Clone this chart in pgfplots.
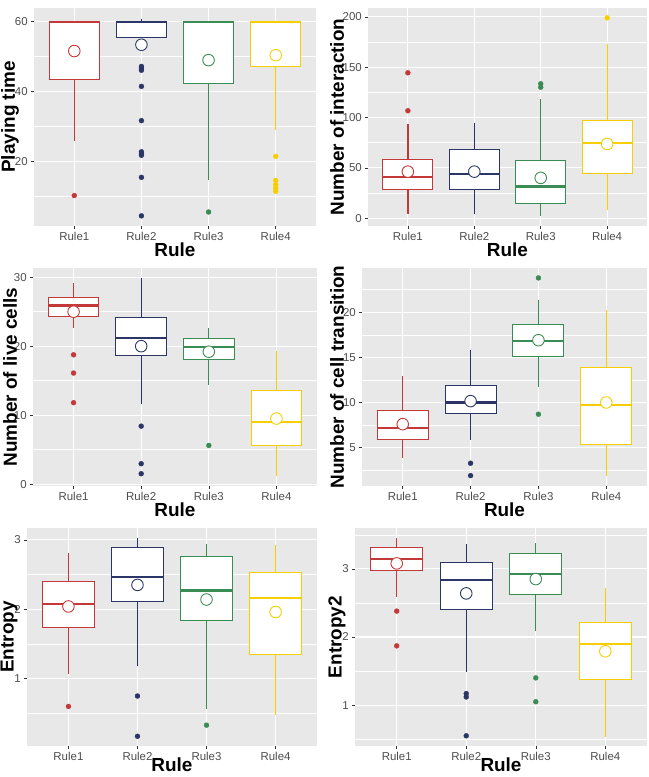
\documentclass[border=0pt]{standalone}
\usepackage{pgfplots}
\pgfplotsset{compat=1.18}
\usepgfplotslibrary{statistics}
\usepackage{fontspec}
\setmainfont{Liberation Sans}
\definecolor{cR}{HTML}{C43838}
\definecolor{cN}{HTML}{2B3566}
\definecolor{cG}{HTML}{3A8C55}
\definecolor{cY}{HTML}{F7CF00}
\definecolor{panelgray}{HTML}{E8E8E8}
\definecolor{gthirty}{HTML}{4D4D4D}
\definecolor{gtwenty}{HTML}{333333}
\pgfplotsset{
  rbox/.style={
    scale only axis, height=218bp,
    xmin=0.4, xmax=4.6, xtick={1,2,3,4}, xticklabels={Rule1,Rule2,Rule3,Rule4},
    axis background/.style={fill=panelgray},
    axis line style={draw=none},
    xmajorgrids=true, ymajorgrids=true, yminorgrids=true,
    major grid style={white, line width=1.1bp},
    minor grid style={white, line width=0.55bp},
    tick align=outside, xtick pos=bottom, ytick pos=left,
    major tick length=2.75pt, minor tick length=0pt,
    tick style={color=gtwenty, line width=0.5bp},
    tick label style={font=\fontsize{11.5}{12}\selectfont, text=gthirty},
    label style={font=\bfseries\fontsize{19}{21}\selectfont, inner sep=0pt},
    xlabel={Rule},
    xlab=24bp,
    /pgf/number format/assume math mode=true,
    boxplot/draw direction=y,
    boxplot/box extend=0.75, boxplot/whisker extend=0,
    boxplot/every median/.style={line width=2.2bp},
    boxplot/every whisker/.style={line width=1.3bp},
    boxplot/every box/.style={line width=1.0bp},
  },
  xlab/.style={xlabel style={at={([yshift=-#1]rel axis cs:0.5,0)}, anchor=center}},
  ylab/.style={ylabel style={at={([xshift=-#1]rel axis cs:0,0.5)}, anchor=center, rotate=0}},
  bxs/.style={draw=#1, fill=white, line width=1.0bp, mark=*, mark size=2.5bp,
    mark options={fill=#1, draw=#1, line width=0.3bp}},
  mn/.style={only marks, mark=*, mark size=5.8bp,
    mark options={fill=white, draw=#1, line width=0.9bp}},
}
% color, pos, lower whisker, lower quartile, median, upper quartile, upper whisker, mean, outliers
\newcommand{\bx}[9]{%
  \addplot[bxs=#1, boxplot prepared={draw position=#2, lower whisker=#3,
    lower quartile=#4, median=#5, upper quartile=#6, upper whisker=#7}] coordinates {#9};
  \addplot[mn=#1] coordinates {(#2,#8)};
}
\begin{document}
\begin{tikzpicture}[x=1bp,y=1bp]
\path[use as bounding box] (0,0) rectangle (649,777);
% Panel 1
\begin{axis}[rbox, at={(34bp,551bp)}, anchor=south west, width=282bp,
  ymin=1.6, ymax=63.9, ytick={20,40,60}, minor ytick={10,30,50},
  ylabel={Playing time}, ylab=24bp]
\bx{cR}{1}{25.8}{43.6}{60}{60}{60}{51.6}{(1,10.3)}
\bx{cN}{2}{55.5}{55.5}{60}{60}{60.8}{53.4}{(2,47.2) (2,46.6) (2,46.1) (2,41.5) (2,31.7) (2,22.8) (2,22.2) (2,21.8) (2,15.5) (2,4.5)}
\bx{cG}{3}{14.7}{42.2}{60}{60}{60}{49.0}{(3,5.6)}
\bx{cY}{4}{29.1}{47.2}{60}{60}{60}{50.4}{(4,21.5) (4,14.6) (4,13.4) (4,12.4) (4,11.5)}
\end{axis}
% Panel 2
\begin{axis}[rbox, at={(368bp,551bp)}, anchor=south west, width=279bp,
  ymin=-7.8, ymax=208.8, ytick={0,50,100,150,200}, minor ytick={25,75,125,175},
  ylabel={Number of interaction}, ylab=31bp]
\bx{cR}{1}{4}{28.8}{41}{57.8}{93.3}{46.2}{(1,106.7) (1,144.4)}
\bx{cN}{2}{4}{28.8}{43.7}{67.8}{94.9}{46.2}{}
\bx{cG}{3}{2.6}{14.2}{31.4}{57.2}{118}{40}{(3,130) (3,133.5)}
\bx{cY}{4}{8.2}{44.3}{75}{96.8}{172.6}{73.7}{(4,199)}
\end{axis}
% Panel 3
\begin{axis}[rbox, at={(33bp,291bp)}, anchor=south west, width=284bp,
  ymin=-0.28, ymax=31.34, ytick={0,10,20,30}, minor ytick={5,15,25},
  ylabel={Number of live cells}, ylab=23bp]
\bx{cR}{1}{22.6}{24.3}{25.9}{27.0}{29.1}{25.0}{(1,18.75) (1,16.1) (1,11.8)}
\bx{cN}{2}{11.6}{18.6}{21.2}{24.1}{29.9}{20.0}{(2,8.4) (2,2.95) (2,1.5)}
\bx{cG}{3}{14.4}{18.1}{19.9}{21.1}{22.7}{19.2}{(3,5.6)}
\bx{cY}{4}{1.16}{5.6}{9.0}{13.5}{19.3}{9.5}{}
\end{axis}
% Panel 4
\begin{axis}[rbox, at={(362bp,291bp)}, anchor=south west, width=285bp,
  ymin=0.75, ymax=24.9, ytick={5,10,15,20}, minor ytick={2.5,7.5,12.5,17.5,22.5},
  ylabel={Number of cell transition}, ylab=25bp]
\bx{cR}{1}{3.9}{5.86}{7.2}{9.15}{12.9}{7.6}{}
\bx{cN}{2}{5.8}{8.8}{10.0}{11.9}{15.85}{10.15}{(2,3.27) (2,1.9)}
\bx{cG}{3}{11.7}{15.15}{16.8}{18.6}{21.3}{16.9}{(3,23.8) (3,8.7)}
\bx{cY}{4}{1.85}{5.4}{9.7}{13.9}{20.2}{10.0}{}
\end{axis}
% Panel 5
\begin{axis}[rbox, at={(27bp,31bp)}, anchor=south west, width=290bp,
  ymin=0.03, ymax=3.17, ytick={1,2,3}, minor ytick={0.5,1.5,2.5},
  ylabel={Entropy}, ylab=18bp, xlab=19bp]
\bx{cR}{1}{1.06}{1.73}{2.08}{2.40}{2.81}{2.04}{(1,0.60)}
\bx{cN}{2}{1.18}{2.11}{2.46}{2.89}{3.02}{2.35}{(2,0.75) (2,0.17)}
\bx{cG}{3}{0.57}{1.84}{2.27}{2.76}{2.94}{2.14}{(3,0.33)}
\bx{cY}{4}{0.48}{1.35}{2.16}{2.53}{2.93}{1.96}{}
\end{axis}
% Panel 6
\begin{axis}[rbox, at={(355bp,31bp)}, anchor=south west, width=292bp,
  ymin=0.40, ymax=3.60, ytick={1,2,3}, minor ytick={0.5,1.5,2.5,3.5},
  ylabel={Entropy2}, ylab=18bp, xlab=19bp]
\bx{cR}{1}{2.58}{2.97}{3.15}{3.31}{3.45}{3.08}{(1,2.38) (1,1.87)}
\bx{cN}{2}{1.49}{2.40}{2.84}{3.09}{3.37}{2.64}{(2,1.17) (2,1.12) (2,0.55)}
\bx{cG}{3}{2.09}{2.63}{2.92}{3.22}{3.38}{2.85}{(3,1.40) (3,1.05)}
\bx{cY}{4}{0.53}{1.38}{1.90}{2.22}{2.72}{1.79}{}
\end{axis}
\end{tikzpicture}
\end{document}
